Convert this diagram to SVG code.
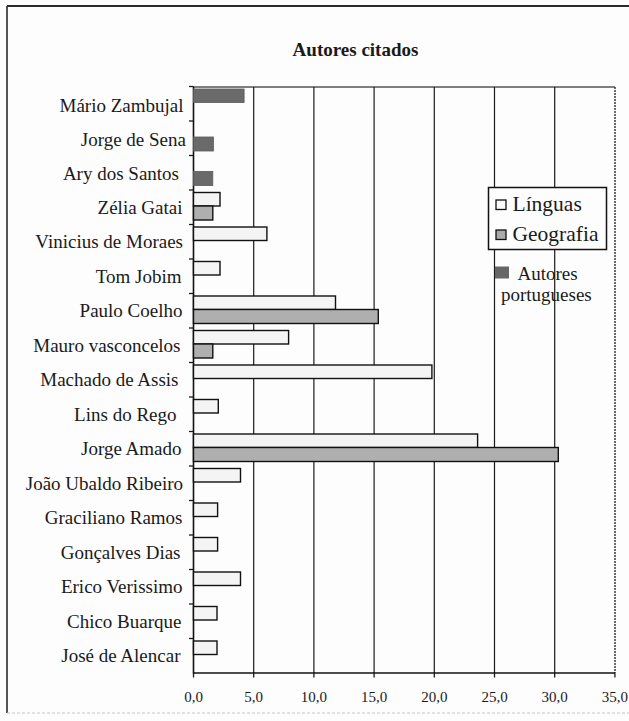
<svg xmlns="http://www.w3.org/2000/svg" width="629" height="721" viewBox="0 0 629 721">
<style>
text{font-family:"Liberation Serif","Times New Roman",serif;fill:#1a1a1a}
.lab{font-size:19px;text-anchor:end}
.ax{font-size:15px;text-anchor:middle}
.leg{font-size:21.5px}
.ann{font-size:19px}
.title{font-size:19px;font-weight:bold;text-anchor:middle}
.grid{stroke:#1a1a1a;stroke-width:1.2}
.tick{stroke:#1a1a1a;stroke-width:1.3}
.lin{fill:#f4f4f4;stroke:#111;stroke-width:1.4}
.geo{fill:#afafaf;stroke:#111;stroke-width:1.4}
.por{fill:#6a6a6a;stroke:#5a5a5a;stroke-width:0.8}
</style>
<rect x="0" y="0" width="629" height="721" fill="#fdfdfd"/>
<!-- outer frame -->
<g id="frame" fill="none">
<line x1="7" y1="6" x2="629" y2="6" stroke="#2a2a2a" stroke-width="2"/>
<line x1="7" y1="6" x2="7" y2="713" stroke="#2a2a2a" stroke-width="1.6"/>
<line x1="7" y1="713" x2="629" y2="713" stroke="#c8c8c8" stroke-width="1" stroke-dasharray="3 2"/>
</g>
<text class="title" x="355.5" y="56">Autores citados</text>
<!-- plot area: grid and axes -->
<g id="axes">
<line x1="193.5" y1="87" x2="615" y2="87" stroke="#555" stroke-width="1.4"/>
<line x1="615" y1="87" x2="615" y2="673" stroke="#444" stroke-width="1.6" stroke-dasharray="2 1"/>
<g class="grid">
<line x1="253.7" y1="87" x2="253.7" y2="673"/>
<line x1="313.9" y1="87" x2="313.9" y2="673"/>
<line x1="374.1" y1="87" x2="374.1" y2="673"/>
<line x1="434.3" y1="87" x2="434.3" y2="673"/>
<line x1="494.5" y1="87" x2="494.5" y2="673"/>
<line x1="554.7" y1="87" x2="554.7" y2="673"/>
</g>
<g class="tick">
<line x1="189" y1="86.5" x2="193.5" y2="86.5"/>
<line x1="189" y1="121" x2="193.5" y2="121"/>
<line x1="189" y1="155.5" x2="193.5" y2="155.5"/>
<line x1="189" y1="190" x2="193.5" y2="190"/>
<line x1="189" y1="224.5" x2="193.5" y2="224.5"/>
<line x1="189" y1="259" x2="193.5" y2="259"/>
<line x1="189" y1="293.5" x2="193.5" y2="293.5"/>
<line x1="189" y1="328" x2="193.5" y2="328"/>
<line x1="189" y1="362.5" x2="193.5" y2="362.5"/>
<line x1="189" y1="397" x2="193.5" y2="397"/>
<line x1="189" y1="431.5" x2="193.5" y2="431.5"/>
<line x1="189" y1="466" x2="193.5" y2="466"/>
<line x1="189" y1="500.5" x2="193.5" y2="500.5"/>
<line x1="189" y1="535" x2="193.5" y2="535"/>
<line x1="189" y1="569.5" x2="193.5" y2="569.5"/>
<line x1="189" y1="604" x2="193.5" y2="604"/>
<line x1="189" y1="638.5" x2="193.5" y2="638.5"/>
<line x1="193.5" y1="673" x2="193.5" y2="677.5"/>
<line x1="253.7" y1="673" x2="253.7" y2="677.5"/>
<line x1="313.9" y1="673" x2="313.9" y2="677.5"/>
<line x1="374.1" y1="673" x2="374.1" y2="677.5"/>
<line x1="434.3" y1="673" x2="434.3" y2="677.5"/>
<line x1="494.5" y1="673" x2="494.5" y2="677.5"/>
<line x1="554.7" y1="673" x2="554.7" y2="677.5"/>
<line x1="614.9" y1="673" x2="614.9" y2="677.5"/>
</g>
<line x1="193.5" y1="86.5" x2="193.5" y2="673.5" stroke="#111" stroke-width="1.6"/>
<line x1="193.5" y1="673" x2="615" y2="673" stroke="#111" stroke-width="1.6"/>
<g class="ax">
<text x="193.5" y="702">0,0</text>
<text x="253.7" y="702">5,0</text>
<text x="313.9" y="702">10,0</text>
<text x="374.1" y="702">15,0</text>
<text x="434.3" y="702">20,0</text>
<text x="494.5" y="702">25,0</text>
<text x="554.7" y="702">30,0</text>
<text x="614.9" y="702">35,0</text>
</g>
</g>
<!-- categories -->
<g id="cat-mario"><text class="lab" x="183.5" y="111.5">Mário Zambujal</text><rect class="por" x="193.5" y="89" width="50.6" height="13.5"/></g>
<g id="cat-sena"><text class="lab" x="186" y="145.5">Jorge de Sena</text><rect class="por" x="193.5" y="137" width="19.9" height="14"/></g>
<g id="cat-ary"><text class="lab" x="179" y="179.5">Ary dos Santos</text><rect class="por" x="193.5" y="171.5" width="19.3" height="14"/></g>
<g id="cat-zelia"><text class="lab" x="182.5" y="213.5">Zélia Gatai</text><rect class="lin" x="193.5" y="192.5" width="26.5" height="13.5"/><rect class="geo" x="193.5" y="206" width="19.3" height="14"/></g>
<g id="cat-vinicius"><text class="lab" x="183" y="248">Vinicius de Moraes</text><rect class="lin" x="193.5" y="227" width="73.4" height="13.5"/></g>
<g id="cat-tom"><text class="lab" x="181.5" y="282.5">Tom Jobim</text><rect class="lin" x="193.5" y="261.5" width="26.5" height="13.5"/></g>
<g id="cat-paulo"><text class="lab" x="182.5" y="317">Paulo Coelho</text><rect class="lin" x="193.5" y="296" width="142" height="13.5"/><rect class="geo" x="193.5" y="309.5" width="184.8" height="14"/></g>
<g id="cat-mauro"><text class="lab" x="180.5" y="351.5">Mauro vasconcelos</text><rect class="lin" x="193.5" y="330.5" width="95.1" height="13.5"/><rect class="geo" x="193.5" y="344" width="19.3" height="14"/></g>
<g id="cat-machado"><text class="lab" x="178.5" y="386">Machado de Assis</text><rect class="lin" x="193.5" y="365" width="238.4" height="13.5"/></g>
<g id="cat-lins"><text class="lab" x="176.5" y="420.5">Lins do Rego</text><rect class="lin" x="193.5" y="399.5" width="24.8" height="13.5"/></g>
<g id="cat-amado"><text class="lab" x="181.5" y="455">Jorge Amado</text><rect class="lin" x="193.5" y="434" width="284.1" height="13.5"/><rect class="geo" x="193.5" y="447.5" width="364.8" height="14"/></g>
<g id="cat-joao"><text class="lab" x="183" y="489.5">João Ubaldo Ribeiro</text><rect class="lin" x="193.5" y="468.5" width="47" height="13.5"/></g>
<g id="cat-graciliano"><text class="lab" x="182.5" y="524">Graciliano Ramos</text><rect class="lin" x="193.5" y="503" width="24.1" height="13.5"/></g>
<g id="cat-goncalves"><text class="lab" x="180.5" y="558.5">Gonçalves Dias</text><rect class="lin" x="193.5" y="537.5" width="24.1" height="13.5"/></g>
<g id="cat-erico"><text class="lab" x="182.5" y="593">Erico Verissimo</text><rect class="lin" x="193.5" y="572" width="47" height="13.5"/></g>
<g id="cat-chico"><text class="lab" x="181.5" y="627.5">Chico Buarque</text><rect class="lin" x="193.5" y="606.5" width="23.5" height="13.5"/></g>
<g id="cat-jose"><text class="lab" x="180.5" y="662">José de Alencar</text><rect class="lin" x="193.5" y="641" width="23.5" height="13.5"/></g>
<!-- legend -->
<g id="legend">
<rect x="488.5" y="187.5" width="118" height="62" fill="#fdfdfd" stroke="#111" stroke-width="1.5"/>
<rect x="496" y="200" width="10" height="9.5" fill="#fafafa" stroke="#111" stroke-width="1.3"/>
<text class="leg" x="512.5" y="210.5">Línguas</text>
<rect x="496" y="230" width="10" height="9.5" fill="#aaa" stroke="#111" stroke-width="1.3"/>
<text class="leg" x="512.5" y="240.5">Geografia</text>
</g>
<g id="annotation">
<rect x="495" y="266.5" width="14" height="12" fill="#666"/>
<text class="ann" x="517.5" y="280">Autores</text>
<text class="ann" x="501" y="301">portugueses</text>
</g>
</svg>
